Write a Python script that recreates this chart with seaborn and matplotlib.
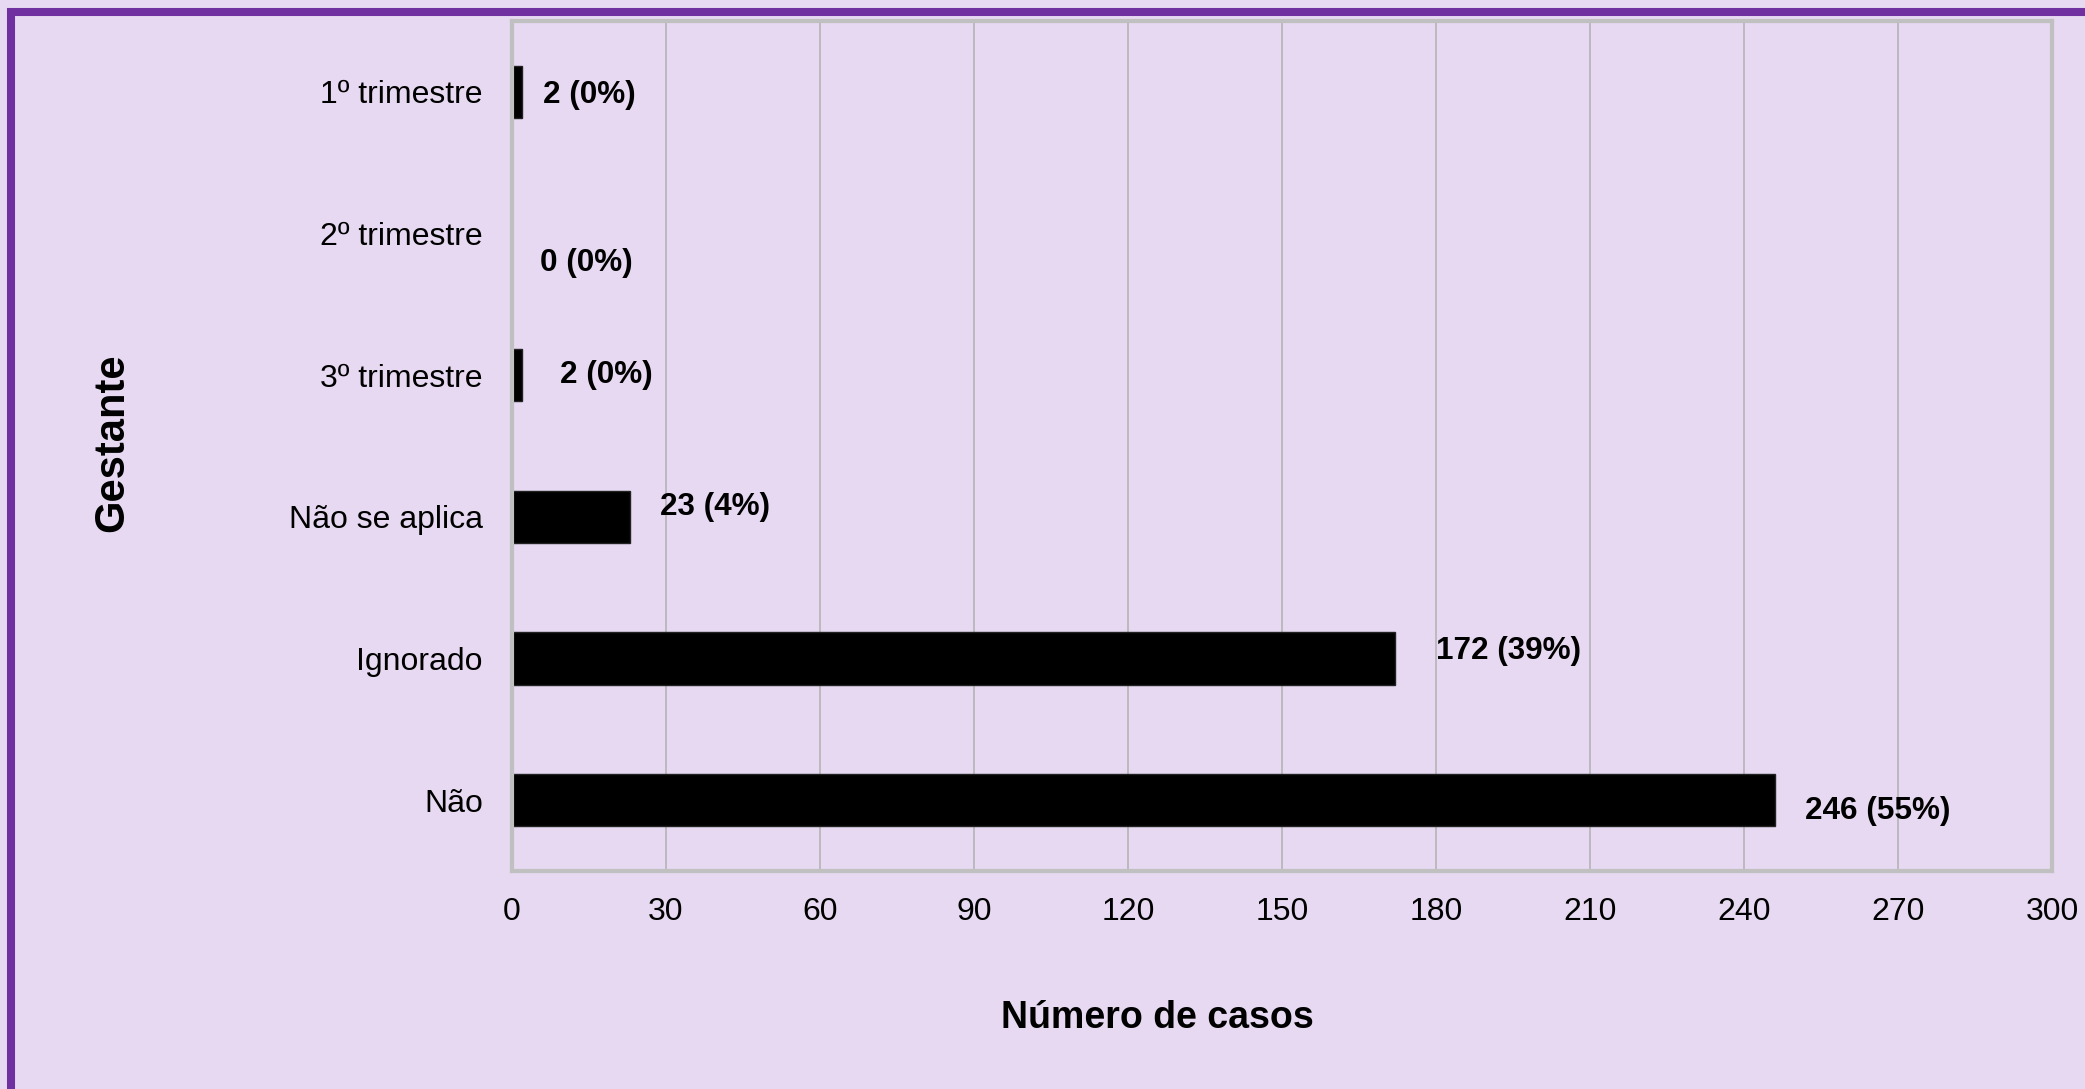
import matplotlib
matplotlib.use("Agg")
import matplotlib.pyplot as plt
from matplotlib.patches import Rectangle
import pandas as pd
import seaborn as sns

categories = ["1º trimestre", "2º trimestre", "3º trimestre", "Não se aplica", "Ignorado", "Não"]
casos = [2, 0, 2, 23, 172, 246]
percent = [0, 0, 0, 4, 39, 55]
xticks = [0, 30, 60, 90, 120, 150, 180, 210, 240, 270, 300]

# label placement (offsets from bar end / category centre)
label_dx = [4, 5.4, 7.3, 5.8, 8, 5.8]
label_dy = [0.02, 0.21, 0.0, -0.07, -0.055, 0.076]

bg = "#E6D9F1"
purple = "#7030A0"

df = pd.DataFrame({"Gestante": categories, "casos": casos})

sns.set_style("white")
plt.rcParams["font.family"] = ["Liberation Sans", "DejaVu Sans"]
plt.rcParams["text.color"] = "black"
plt.rcParams["axes.labelcolor"] = "black"

W, H = 2085, 1089
fig = plt.figure(figsize=(W / 100, H / 100), dpi=100, facecolor=bg)
ax = fig.add_axes([512 / W, 1 - 871 / H, (2052 - 512) / W, (871 - 21) / H])
ax.set_facecolor(bg)

sns.barplot(data=df, y="Gestante", x="casos", orient="h", color="black",
            width=0.37, edgecolor="#222222", linewidth=1, saturation=1, ax=ax)

ax.set_xlim(0, 300)
ax.set_xticks(xticks)
ax.set_xticklabels([str(t) for t in xticks])
ax.grid(axis="x", color="#B4B4B4", linewidth=1.2)
ax.grid(axis="y", visible=False)
ax.set_axisbelow(True)
for s in ax.spines.values():
    s.set_visible(True)
    s.set_color("#C0C0C0")
    s.set_linewidth(3)

ax.tick_params(axis="y", length=0, pad=21, labelsize=23, colors="black")
ax.tick_params(axis="x", length=0, pad=19, labelsize=23, colors="black")

for i, (v, p) in enumerate(zip(casos, percent)):
    ax.text(v + label_dx[i], i + label_dy[i], f"{v} ({p}%)", ha="left", va="center",
            fontsize=22.7, fontweight="bold", color="black")

ax.set_xlabel("Número de casos", fontsize=27, fontweight="bold", color="black")
ax.set_ylabel("Gestante", fontsize=30, fontweight="bold", color="black")
ax.xaxis.set_label_coords((1157 - 512) / 1540, ((H - 1018) / H - (1 - 871 / H)) / (850 / H))
ax.xaxis.label.set_va("center")
ax.yaxis.set_label_coords((112 - 512) / 1540, 0.5 - (443 - 446) / 850)
ax.yaxis.label.set_va("center")

# purple frame (only top and left edges fall inside the picture)
fig.patches.append(Rectangle((11 / W, -0.5), 2, 1.5 - 12 / H, transform=fig.transFigure,
                             fill=False, edgecolor=purple, linewidth=5.8))

fig.savefig("out.png", dpi=100, facecolor=bg)
